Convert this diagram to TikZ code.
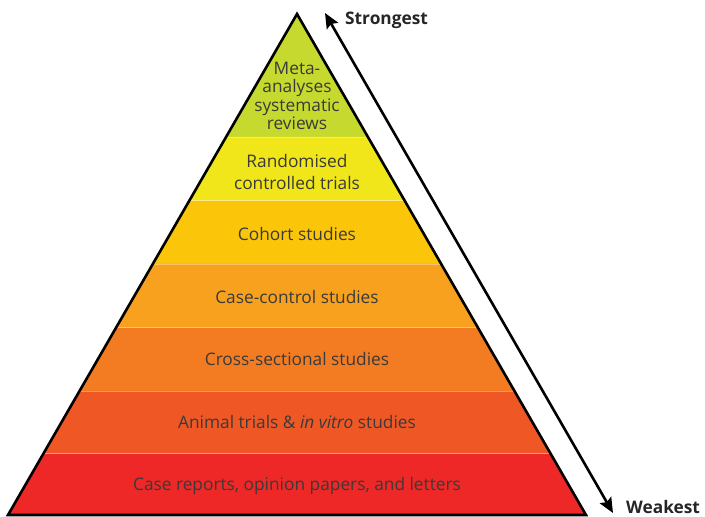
\documentclass[tikz,border=0pt]{standalone}
\usepackage{fontspec}
\setmainfont{Open Sans}
\usetikzlibrary{calc,arrows.meta}

\definecolor{metagreen}{RGB}{198,217,47}
\definecolor{rctyellow}{RGB}{240,230,26}
\definecolor{cohortgold}{RGB}{251,198,10}
\definecolor{casectrlorange}{RGB}{247,161,31}
\definecolor{crossorange}{RGB}{243,124,35}
\definecolor{animalred}{RGB}{239,88,37}
\definecolor{reportred}{RGB}{237,40,39}
\definecolor{textgrey}{RGB}{58,58,58}

\begin{document}
\begin{tikzpicture}%
	[x=1pt,y=-1pt,
	outline/.style={color=black, line width=2.6pt, line join=miter},
	divider/.style={color=white, opacity=0.35, line width=0.8pt},
	level/.style={text=textgrey, font=\fontsize{17.3}{21.5}\selectfont, align=center, inner sep=0pt},
	toplevel/.style={level, font=\fontsize{17.3}{18.5}\selectfont},
	strength/.style={text=black!85, font=\bfseries\fontsize{17.3}{18}\selectfont, inner sep=0pt, anchor=west},
	scalearrow/.style={line width=2.6pt, {Stealth[length=15pt,width=13pt,inset=2.5pt]}-{Stealth[length=15pt,width=13pt,inset=2.5pt]}}]
	\useasboundingbox (0,0) rectangle (705,517);

	\coordinate (apex) at (297,14);
	\coordinate (bl) at (8,515);
	\coordinate (br) at (586,515);

	% bands, top to bottom
	\foreach \t/\b/\c in {0/0.2455/metagreen, 0.2455/0.3723/rctyellow, 0.3723/0.4990/cohortgold,
		0.4990/0.6257/casectrlorange, 0.6257/0.7525/crossorange, 0.7525/0.8770/animalred, 0.8770/1/reportred}
	{
		\fill[\c] ($(apex)!\t!(bl)$) -- ($(apex)!\b!(bl)$) -- ($(apex)!\b!(br)$) -- ($(apex)!\t!(br)$) -- cycle;
	}
	\foreach \b in {0.2455,0.3723,0.4990,0.6257,0.7525,0.8770}
		\draw[divider] ($(apex)!\b!(bl)$) -- ($(apex)!\b!(br)$);
	\draw[outline] (apex) -- (bl) -- (br) -- cycle;

	% labels
	\node[toplevel] (meta) at (297,96) {Meta-\\analyses\\systematic\\reviews};
	\node[level] (rct) at (297,172) {Randomised\\controlled trials};
	\node[level] (cohort) at (297,234) {Cohort studies};
	\node[level] (casectrl) at (297,297) {Case-control studies};
	\node[level] (cross) at (297,359) {Cross-sectional studies};
	\node[level] (animal) at (297,422) {Animal trials \& \emph{in vitro} studies};
	\node[level] (reports) at (297,486) {Case reports, opinion papers, and letters};

	%axes
	\coordinate (strong) at (325,13);
	\coordinate (weak) at (613,513);
	\draw[scalearrow] (strong) -- (weak);
	\node[strength] (strongest) at (345,20) {Strongest};
	\node[strength] (weakest) at (626,507) {Weakest};
\end{tikzpicture}
\end{document}
